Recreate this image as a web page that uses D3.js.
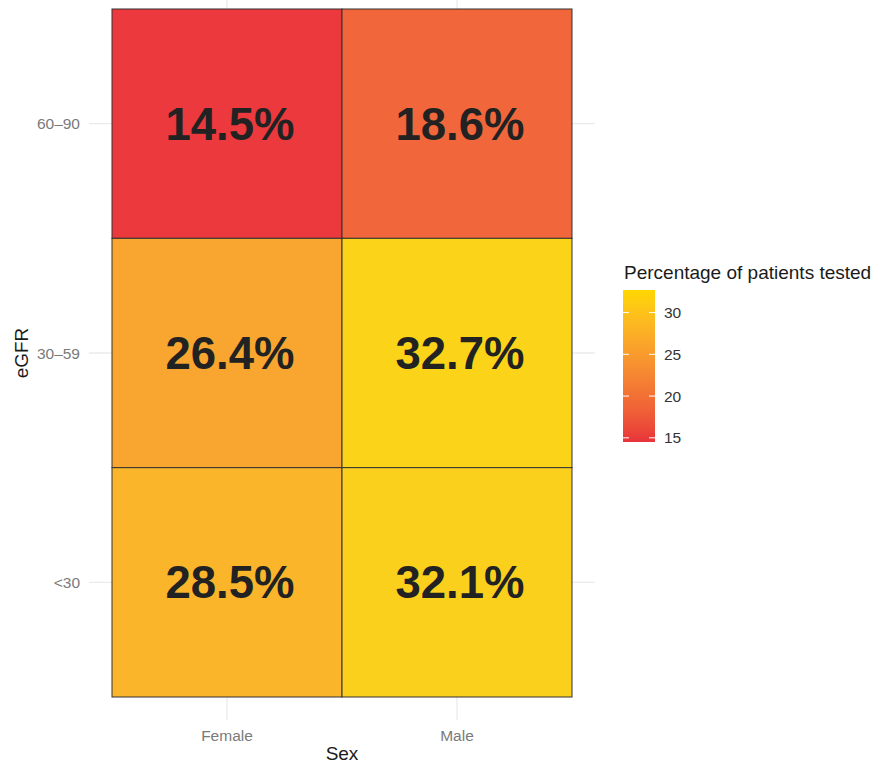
<!DOCTYPE html>
<html><head><meta charset="utf-8">
<script src="https://cdn.jsdelivr.net/npm/d3@7"></script>
<style>body{margin:0;background:#fff;} text{font-family:"Liberation Sans",Arial,Helvetica,sans-serif;}</style>
</head><body>
<svg id="chart" width="875" height="764"></svg>
<script>
const sexes = ["Female", "Male"];
const egfrBands = ["60–90", "30–59", "<30"];
const cellSex =   ["Female", "Male", "Female", "Male", "Female", "Male"];
const cellEgfr =  ["60–90", "60–90", "30–59", "30–59", "<30", "<30"];
const cellValue = [14.5, 18.6, 26.4, 32.7, 28.5, 32.1];
const legendTicks = [15, 20, 25, 30];
const legendTitle = "Percentage of patients tested";

const svg = d3.select("#chart");
const x = d3.scaleBand().domain(sexes).range([112, 572]);
const y = d3.scaleBand().domain(egfrBands).range([9, 697]);
const vmin = d3.min(cellValue), vmax = d3.max(cellValue);
const fill = d3.scaleLinear().domain([vmin, vmax]).range(["#EC393E", "#FBD41A"]).interpolate(d3.interpolateLab);

const padX = x.bandwidth() * 0.1, padY = y.bandwidth() * 0.1;
const px0 = x.range()[0] - padX, px1 = x.range()[1] + padX;
const py1 = y.range()[1] + padY;

// grid
const g = svg.append("g");
sexes.forEach(s => {
  const cx = x(s) + x.bandwidth() / 2;
  g.append("line").attr("x1", cx).attr("x2", cx).attr("y1", 0).attr("y2", py1)
    .attr("stroke", "#EBEBEB").attr("stroke-width", 1.4);
});
egfrBands.forEach(b => {
  const cy = y(b) + y.bandwidth() / 2;
  g.append("line").attr("x1", px0).attr("x2", px1).attr("y1", cy).attr("y2", cy)
    .attr("stroke", "#EBEBEB").attr("stroke-width", 1.4);
});

// tiles
const cells = cellValue.map((v, i) => ({ v, s: cellSex[i], e: cellEgfr[i] }));
svg.append("g").selectAll("rect").data(cells).join("rect")
  .attr("x", d => x(d.s)).attr("y", d => y(d.e))
  .attr("width", x.bandwidth()).attr("height", y.bandwidth())
  .attr("fill", d => fill(d.v)).attr("stroke", "#333").attr("stroke-width", 1);

svg.append("g").selectAll("text").data(cells).join("text")
  .attr("x", d => x(d.s) + x.bandwidth() / 2 + 3)
  .attr("y", d => y(d.e) + y.bandwidth() / 2 + 16)
  .attr("text-anchor", "middle").attr("font-weight", "bold").attr("font-size", 45.5)
  .attr("fill", "#222").text(d => d.v.toFixed(1) + "%");

// axes labels
sexes.forEach(s => {
  svg.append("text").attr("x", x(s) + x.bandwidth() / 2).attr("y", 741)
    .attr("text-anchor", "middle").attr("font-size", 15.5).attr("fill", "#7A7A7A").text(s);
});
egfrBands.forEach(b => {
  svg.append("text").attr("x", 80).attr("y", y(b) + y.bandwidth() / 2 + 5.5)
    .attr("text-anchor", "end").attr("font-size", 15.5).attr("fill", "#7A7A7A").text(b);
});
svg.append("text").attr("x", 342).attr("y", 760).attr("text-anchor", "middle")
  .attr("font-size", 19).attr("fill", "#1a1a1a").text("Sex");
svg.append("text").attr("transform", "translate(28,353) rotate(-90)").attr("text-anchor", "middle")
  .attr("font-size", 19).attr("fill", "#1a1a1a").text("eGFR");

// legend
const defs = svg.append("defs");
const grad = defs.append("linearGradient").attr("id", "lg").attr("x1", 0).attr("x2", 0).attr("y1", 1).attr("y2", 0);
const legFill = d3.scaleLinear().domain([vmin, vmax]).range(["#E8333A", "#FFD700"]).interpolate(d3.interpolateLab);
d3.range(0, 1.0001, 0.1).forEach(t => {
  grad.append("stop").attr("offset", t).attr("stop-color", legFill(vmin + t * (vmax - vmin)));
});
const ly = d3.scaleLinear().domain([vmin, vmax]).range([442, 290]);
const lx0 = 623, lw = 32;
svg.append("rect").attr("x", lx0).attr("y", ly(vmax)).attr("width", lw).attr("height", ly(vmin) - ly(vmax)).attr("fill", "url(#lg)");
legendTicks.forEach(t => {
  [[lx0, lx0 + 6], [lx0 + lw - 6, lx0 + lw]].forEach(([a, b]) => {
    svg.append("line").attr("x1", a).attr("x2", b).attr("y1", ly(t)).attr("y2", ly(t)).attr("stroke", "#fff").attr("stroke-width", 1);
  });
  svg.append("text").attr("x", 664).attr("y", ly(t) + 5.5).attr("font-size", 15.5).attr("fill", "#333").text(t);
});
svg.append("text").attr("x", 624).attr("y", 279).attr("font-size", 19).attr("fill", "#1a1a1a").text(legendTitle);
</script>
</body></html>
